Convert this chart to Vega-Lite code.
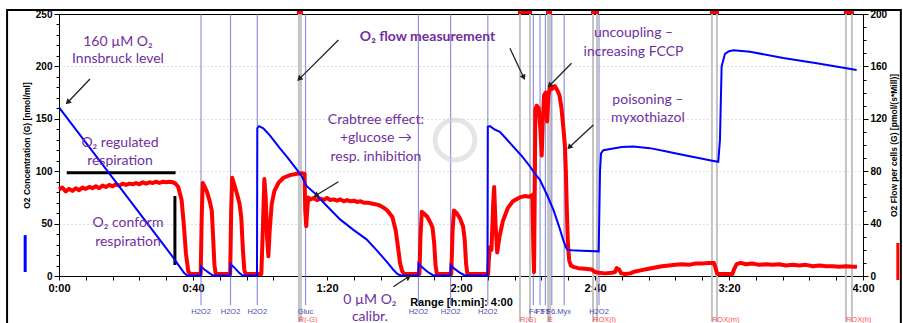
{
  "$schema": "https://vega.github.io/schema/vega-lite/v6.json",
  "width": 804,
  "height": 262,
  "autosize": "none",
  "padding": {"left": 59, "top": 14, "right": 40, "bottom": 47},
  "background": "white",
  "config": {
    "view": {"stroke": "black", "strokeWidth": 1},
    "font": "Liberation Sans",
    "axis": {"labelOverlap": false, "labelFlush": false, "labelBound": false, "labelColor": "black", "tickColor": "black", "domainColor": "black", "titleColor": "black", "labelFontWeight": "bold", "titleFontWeight": "bold"}
  },
  "datasets": {
    "conc": [
      {"t":0,"c":161},{"t":10,"c":119},{"t":20,"c":77},{"t":30,"c":35},{"t":34,"c":18},{"t":36,"c":9},{"t":37.3,"c":3},{"t":38.3,"c":0.5},{"t":42.3,"c":0.5},{"t":42.4,"c":9},{"t":43.5,"c":6},{"t":45,"c":2.5},{"t":46,"c":0.5},{"t":51.1,"c":0.5},{"t":51.2,"c":11.5},{"t":52.5,"c":7.5},{"t":53.8,"c":3},{"t":54.8,"c":0.5},{"t":59.1,"c":0.5},{"t":59.2,"c":141},{"t":59.7,"c":143},{"t":61,"c":141},{"t":63,"c":134},{"t":65.9,"c":122},{"t":68,"c":114},{"t":70.9,"c":102},{"t":72.5,"c":95},{"t":73.9,"c":86},{"t":76,"c":80},{"t":79.9,"c":67},{"t":83.9,"c":54},{"t":87.9,"c":44},{"t":91.8,"c":35},{"t":95,"c":24},{"t":98,"c":13},{"t":99.8,"c":6},{"t":101,"c":2},{"t":102,"c":0.5},{"t":107.2,"c":0.5},{"t":107.3,"c":12},{"t":108.5,"c":8},{"t":110,"c":4},{"t":111.5,"c":1},{"t":112.3,"c":0.5},{"t":116.8,"c":0.5},{"t":116.9,"c":10.5},{"t":118,"c":7},{"t":119.5,"c":3.5},{"t":121,"c":0.8},{"t":122,"c":0.5},{"t":127.9,"c":0.5},{"t":128,"c":142.5},{"t":128.6,"c":143},{"t":130,"c":140},{"t":131.6,"c":137.5},{"t":133.5,"c":131},{"t":135.6,"c":123.5},{"t":138,"c":115},{"t":140.6,"c":104.5},{"t":142,"c":98},{"t":143.6,"c":91.5},{"t":145.6,"c":78},{"t":147.6,"c":63},{"t":149.5,"c":45},{"t":150.5,"c":34.5},{"t":151.3,"c":27.5},{"t":151.8,"c":25},{"t":153,"c":24.5},{"t":156,"c":24},{"t":161.1,"c":23.5},{"t":161.5,"c":100},{"t":161.8,"c":117},{"t":162.5,"c":120},{"t":165,"c":121.5},{"t":168,"c":123},{"t":171.4,"c":123.5},{"t":176.4,"c":122},{"t":181.4,"c":118.8},{"t":186.4,"c":115.5},{"t":191.3,"c":112.3},{"t":195,"c":110},{"t":196.8,"c":109},{"t":197.3,"c":130},{"t":197.8,"c":200},{"t":198.8,"c":212},{"t":200,"c":214.5},{"t":201.3,"c":215.5},{"t":206.3,"c":214},{"t":216.2,"c":208},{"t":226.2,"c":203},{"t":238.1,"c":196.5}
    ],
    "flow": [
      {"t":0,"f":66},{"t":1,"f":67.5},{"t":2,"f":64.5},{"t":3,"f":66.5},{"t":4,"f":65},{"t":5,"f":67},{"t":6,"f":65.5},{"t":7,"f":67.5},{"t":8,"f":66.5},{"t":9,"f":68},{"t":10,"f":67},{"t":11,"f":68.5},{"t":12,"f":67},{"t":13,"f":69},{"t":14,"f":68},{"t":15,"f":69.5},{"t":16,"f":68.5},{"t":17,"f":70},{"t":18,"f":69},{"t":19,"f":70.5},{"t":20,"f":69.5},{"t":21,"f":70.5},{"t":22,"f":70},{"t":23,"f":71},{"t":24,"f":70},{"t":25,"f":71.5},{"t":26,"f":70.5},{"t":27,"f":71.5},{"t":28,"f":71},{"t":29,"f":72},{"t":30,"f":71},{"t":31,"f":72},{"t":32,"f":71.5},{"t":33,"f":72},{"t":34,"f":71.5},{"t":34.8,"f":70.5},{"t":35.6,"f":68},{"t":36.6,"f":58},{"t":37.3,"f":38},{"t":37.9,"f":17},{"t":38.6,"f":3.5},{"t":39.2,"f":1.5},{"t":42.3,"f":1.5},{"t":42.6,"f":45},{"t":42.9,"f":71},{"t":43.5,"f":68},{"t":44.2,"f":64},{"t":45,"f":57},{"t":45.6,"f":50},{"t":46,"f":30},{"t":46.4,"f":8},{"t":46.8,"f":1.5},{"t":51.1,"f":1.5},{"t":51.4,"f":50},{"t":51.7,"f":75},{"t":52.3,"f":70},{"t":53.2,"f":62},{"t":53.9,"f":55},{"t":54.4,"f":45},{"t":54.9,"f":20},{"t":55.3,"f":5},{"t":55.7,"f":1.5},{"t":60.4,"f":1.5},{"t":60.9,"f":40},{"t":61.3,"f":74},{"t":61.7,"f":60},{"t":62.1,"f":30},{"t":62.5,"f":15},{"t":62.9,"f":35},{"t":63.5,"f":55},{"t":64.3,"f":65},{"t":65.5,"f":71},{"t":67,"f":75},{"t":69,"f":77},{"t":71,"f":78},{"t":72.5,"f":78.5},{"t":73.3,"f":78},{"t":73.5,"f":50},{"t":73.8,"f":38},{"t":74.1,"f":50},{"t":74.4,"f":60},{"t":75,"f":58.5},{"t":76,"f":59.5},{"t":77,"f":58},{"t":78,"f":59},{"t":79,"f":58},{"t":80,"f":59.5},{"t":81,"f":58},{"t":82,"f":58.5},{"t":83,"f":57.5},{"t":84,"f":58.5},{"t":85,"f":57},{"t":86,"f":58},{"t":87,"f":57},{"t":88,"f":57.5},{"t":89,"f":56.5},{"t":90,"f":57},{"t":91,"f":56},{"t":92,"f":56},{"t":93,"f":55.5},{"t":94,"f":55},{"t":95,"f":54.5},{"t":96,"f":53.5},{"t":97,"f":52},{"t":98,"f":50},{"t":99.5,"f":45},{"t":100.5,"f":35},{"t":101.2,"f":22},{"t":101.8,"f":10},{"t":102.4,"f":4},{"t":103,"f":1.5},{"t":107.6,"f":1.5},{"t":107.9,"f":30},{"t":108.3,"f":49},{"t":109,"f":47.5},{"t":110,"f":45},{"t":111,"f":40},{"t":111.5,"f":37},{"t":112,"f":25},{"t":112.4,"f":8},{"t":112.8,"f":1.5},{"t":117.1,"f":1.5},{"t":117.5,"f":35},{"t":117.9,"f":50},{"t":118.7,"f":48},{"t":119.7,"f":44},{"t":120.6,"f":38},{"t":121.1,"f":28},{"t":121.5,"f":10},{"t":121.9,"f":1.5},{"t":128.1,"f":1.5},{"t":128.3,"f":12},{"t":128.6,"f":22},{"t":129.1,"f":20},{"t":129.6,"f":55},{"t":129.9,"f":68},{"t":130.3,"f":40},{"t":130.8,"f":18},{"t":131.5,"f":30},{"t":132.5,"f":42},{"t":134,"f":52},{"t":135.5,"f":57},{"t":137.5,"f":60},{"t":139,"f":61},{"t":140.5,"f":60.5},{"t":141.3,"f":62},{"t":141.6,"f":20},{"t":141.8,"f":3},{"t":142,"f":60},{"t":142.2,"f":127},{"t":142.6,"f":130},{"t":143.2,"f":128},{"t":143.7,"f":112},{"t":144.1,"f":92},{"t":144.4,"f":118},{"t":144.8,"f":138},{"t":145.3,"f":140},{"t":145.7,"f":118},{"t":146.1,"f":138},{"t":146.6,"f":144},{"t":147.3,"f":143},{"t":148,"f":145},{"t":148.7,"f":142},{"t":149.4,"f":138},{"t":150,"f":128},{"t":150.6,"f":112},{"t":151,"f":100},{"t":151.3,"f":80},{"t":151.6,"f":50},{"t":151.9,"f":25},{"t":152.3,"f":12},{"t":152.8,"f":8},{"t":153.5,"f":7},{"t":155,"f":6},{"t":157,"f":5.5},{"t":159,"f":5},{"t":160,"f":3},{"t":161.2,"f":2.5},{"t":163,"f":2},{"t":165,"f":2.5},{"t":166,"f":3},{"t":166.5,"f":6},{"t":167.2,"f":5},{"t":167.8,"f":2},{"t":169,"f":1.5},{"t":170.5,"f":2},{"t":172,"f":3.5},{"t":174,"f":4.5},{"t":176,"f":5.5},{"t":178,"f":6.5},{"t":180,"f":7.5},{"t":182,"f":8},{"t":184,"f":8.5},{"t":186,"f":9},{"t":188,"f":8.5},{"t":190,"f":9.5},{"t":192,"f":9.5},{"t":194,"f":10},{"t":195.5,"f":10},{"t":196,"f":6},{"t":196.5,"f":1.5},{"t":201,"f":1.5},{"t":201.5,"f":5},{"t":202.3,"f":9},{"t":203.5,"f":10},{"t":205,"f":9},{"t":207,"f":9.5},{"t":209,"f":8.5},{"t":211,"f":9},{"t":213,"f":8.5},{"t":215,"f":9},{"t":217,"f":8},{"t":219,"f":8.5},{"t":221,"f":8},{"t":223,"f":8.5},{"t":225,"f":7.5},{"t":227,"f":8},{"t":229,"f":7.5},{"t":231,"f":7.5},{"t":233,"f":7},{"t":235,"f":7.5},{"t":237,"f":7},{"t":238.2,"f":7}
    ],
    "events": [
      {"t":42.4,"lab":"H2O2"},{"t":51.2,"lab":"H2O2"},{"t":59.2,"lab":"H2O2"},{"t":73.6,"lab":"Gluc"},{"t":107.3,"lab":"H2O2"},{"t":116.9,"lab":"H2O2"},{"t":128.0,"lab":"H2O2"},{"t":141.6,"lab":"F4"},{"t":143.6,"lab":"F5"},{"t":145.2,"lab":"F5"},{"t":147.1,"lab":"F6."},{"t":150.8,"lab":"Myx"},{"t":161.2,"lab":"H2O2"}
    ],
    "marks": [
      {"lab":"R(-G)","t0":71.6,"t1":72.2},{"lab":"R(G)","t0":137.6,"t1":140.6},{"lab":"E","t0":146.0,"t1":146.6},{"lab":"ROX(l)","t0":159.4,"t1":160.6},{"lab":"ROX(m)","t0":194.9,"t1":196.4},{"lab":"ROX(h)","t0":234.9,"t1":236.7}
    ],
    "notes": [
      {"txt":"160 µM O₂","t":17.6,"c":223.6},
      {"txt":"Innsbruck level","t":17.6,"c":206.8},
      {"txt":"O₂ regulated","t":18.2,"c":127.2},
      {"txt":"respiration","t":18.2,"c":109.7},
      {"txt":"O₂ conform","t":20.6,"c":50.6},
      {"txt":"respiration","t":20.6,"c":32.7},
      {"txt":"Crabtree effect:","t":94.6,"c":148.9},
      {"txt":"+glucose →","t":94.6,"c":131.4},
      {"txt":"resp. inhibition","t":94.6,"c":113.8},
      {"txt":"0 µM O₂","t":92.8,"c":-22.9},
      {"txt":"calibr.","t":92.8,"c":-39.2},
      {"txt":"uncoupling –","t":171.5,"c":231.6},
      {"txt":"increasing FCCP","t":171.5,"c":214},
      {"txt":"poisoning –","t":175.8,"c":167.9},
      {"txt":"myxothiazol","t":175.8,"c":150.5}
    ],
    "arrows": [
      {"id":1,"t":9.25,"c":188,"t2":2.78,"c2":166.3},
      {"id":2,"t":83.4,"c":225.2,"t2":71.9,"c2":188.6},
      {"id":3,"t":134.6,"c":217.3,"t2":138.6,"c2":190.2},
      {"id":4,"t":153.0,"c":203,"t2":146.6,"c2":182.3},
      {"id":5,"t":159.5,"c":144.1,"t2":152.5,"c2":123.4},
      {"id":6,"t":83.4,"c":90,"t2":76.9,"c2":77.3},
      {"id":7,"t":99.8,"c":-10.2,"t2":104.2,"c2":-1}
    ]
  },
  "layer": [
    {
      "layer": [
        {
          "data": {"name": "marks"},
          "mark": {"type": "rule", "color": "#c4c4c4", "strokeWidth": 2},
          "encoding": {
            "x": {
              "field": "t0", "type": "quantitative",
              "scale": {"domain": [0, 240], "nice": false, "zero": false},
              "axis": {
                "values": [0,8,16,24,32,40,48,56,64,72,80,88,96,104,112,120,128,136,144,152,160,168,176,184,192,200,208,216,224,232,240],
                "tickCount": 1000,
                "labelExpr": "datum.value % 40 === 0 ? (floor(datum.value/60) + ':' + (datum.value % 60 < 10 ? '0' : '') + (datum.value % 60)) : ''",
                "labelOverlap": false, "labelFlush": false,
                "labelFontSize": 11, "labelPadding": 2,
                "tickSize": 4,
                "grid": false,
                "title": "Range [h:min]: 4:00", "titleFontSize": 11, "titlePadding": 3
              }
            },
            "y": {
              "datum": 250, "type": "quantitative",
              "scale": {"domain": [0, 250], "nice": false, "zero": false},
              "axis": {
                "values": [0,10,20,30,40,50,60,70,80,90,100,110,120,130,140,150,160,170,180,190,200,210,220,230,240,250],
                "tickCount": 1000,
                "format": "d",
                "labelExpr": "datum.value % 50 === 0 ? datum.label : ''",
                "labelOverlap": false, "labelFontSize": 10, "labelPadding": 2,
                "tickSize": {"condition": {"test": "datum.value % 50 === 0", "value": 5}, "value": 3},
                "grid": true, "gridColor": "#c0c0c0", "gridDash": [1, 3],
                "gridOpacity": {"condition": {"test": "datum.value % 50 === 0 && datum.value > 0 && datum.value < 250", "value": 1}, "value": 0},
                "title": "O2 Concentration (G) [nmol/ml]", "titleFontSize": 8.5, "titlePadding": 4
              }
            },
            "y2": {"datum": -44}
          }
        },
        {
          "data": {"name": "marks"},
          "mark": {"type": "rule", "color": "#c4c4c4", "strokeWidth": 2},
          "encoding": {
            "x": {"field": "t1", "type": "quantitative"},
            "y": {"datum": 250, "type": "quantitative"},
            "y2": {"datum": -44}
          }
        },
        {
          "data": {"name": "events"},
          "mark": {"type": "rule", "color": "#6e6ed2", "strokeWidth": 1.2, "opacity": 0.75},
          "encoding": {
            "x": {"field": "t", "type": "quantitative"},
            "y": {"datum": 250, "type": "quantitative"},
            "y2": {"datum": -28}
          }
        },
        {
          "data": {"name": "marks"},
          "mark": {"type": "rule", "color": "#ff0000", "strokeWidth": 4, "strokeCap": "square"},
          "encoding": {
            "x": {"field": "t0", "type": "quantitative"},
            "x2": {"field": "t1"},
            "y": {"datum": 251.9, "type": "quantitative"}
          }
        },
        {
          "data": {"name": "events"},
          "mark": {"type": "text", "fontSize": 7.5, "color": "#4a4ab8", "align": "center", "baseline": "middle"},
          "encoding": {
            "x": {"field": "t", "type": "quantitative"},
            "y": {"datum": -34.4, "type": "quantitative"},
            "text": {"field": "lab"}
          }
        },
        {
          "data": {"name": "marks"},
          "mark": {"type": "text", "fontSize": 7.5, "color": "#ff5050", "align": "left", "baseline": "middle"},
          "encoding": {
            "x": {"field": "t0", "type": "quantitative"},
            "y": {"datum": -41.8, "type": "quantitative"},
            "text": {"field": "lab"}
          }
        },
        {
          "data": {"values": [{}]},
          "mark": {"type": "rule", "color": "black", "strokeWidth": 3},
          "encoding": {
            "x": {"datum": 2.3, "type": "quantitative"},
            "x2": {"datum": 34.8},
            "y": {"datum": 98.6, "type": "quantitative"}
          }
        },
        {
          "data": {"values": [{}]},
          "mark": {"type": "rule", "color": "black", "strokeWidth": 3},
          "encoding": {
            "x": {"datum": 34.6, "type": "quantitative"},
            "y": {"datum": 76.3, "type": "quantitative"},
            "y2": {"datum": 10.5}
          }
        },
        {
          "data": {"values": [{}]},
          "mark": {"type": "point", "shape": "circle", "size": 1590, "filled": false, "stroke": "#d0d0d0", "strokeWidth": 5, "opacity": 0.55},
          "encoding": {
            "x": {"datum": 118.2, "type": "quantitative"},
            "y": {"datum": 129.8, "type": "quantitative"}
          }
        },
        {
          "data": {"values": [{}]},
          "mark": {"type": "rect", "fillOpacity": 0, "stroke": "black", "strokeWidth": 2},
          "encoding": {
            "x": {"datum": -15.5, "type": "quantitative"},
            "x2": {"datum": 251.3},
            "y": {"datum": 253.8, "type": "quantitative"},
            "y2": {"datum": -60}
          }
        },
        {
          "data": {"values": [{}]},
          "mark": {"type": "rule", "color": "#0000ff", "strokeWidth": 3},
          "encoding": {
            "x": {"datum": -10.1, "type": "quantitative"},
            "y": {"datum": 39, "type": "quantitative"},
            "y2": {"datum": 3.8}
          }
        }
      ]
    },
    {
      "layer": [
        {
          "data": {"name": "flow"},
          "mark": {"type": "line", "color": "#ff0000", "strokeWidth": 4, "strokeJoin": "round"},
          "encoding": {
            "x": {"field": "t", "type": "quantitative"},
            "y": {
              "field": "f", "type": "quantitative",
              "scale": {"domain": [0, 200], "nice": false, "zero": false},
              "axis": {
                "orient": "right",
                "values": [0,10,20,30,40,50,60,70,80,90,100,110,120,130,140,150,160,170,180,190,200],
                "tickCount": 1000,
                "format": "d",
                "labelExpr": "datum.value % 40 === 0 ? datum.label : ''",
                "labelOverlap": false, "labelFontSize": 10, "labelPadding": 2,
                "tickSize": {"condition": {"test": "datum.value % 40 === 0", "value": 5}, "value": 3},
                "grid": false,
                "title": "O2 Flow per cells (G) [pmol/(s*Mill)]", "titleFontSize": 8.5, "titlePadding": 3, "titleAngle": 270, "titleBaseline": "top"
              }
            }
          }
        },
        {
          "data": {"values": [{}]},
          "mark": {"type": "rule", "color": "#ff0000", "strokeWidth": 3},
          "encoding": {
            "x": {"datum": 250.4, "type": "quantitative"},
            "y": {"datum": 25.2, "type": "quantitative"},
            "y2": {"datum": -3.1}
          }
        }
      ]
    },
    {
      "layer": [
        {
          "data": {"name": "conc"},
          "mark": {"type": "line", "color": "#0000ff", "strokeWidth": 2},
          "encoding": {
            "x": {"field": "t", "type": "quantitative"},
            "y": {"field": "c", "type": "quantitative", "scale": {"domain": [0, 250], "nice": false, "zero": false}, "axis": null}
          }
        },
        {
          "data": {"name": "notes"},
          "mark": {"type": "text", "font": "Lato, Noto Sans", "fontSize": 14, "color": "#7030a0", "align": "center", "baseline": "middle"},
          "encoding": {
            "x": {"field": "t", "type": "quantitative"},
            "y": {"field": "c", "type": "quantitative", "axis": null},
            "text": {"field": "txt"}
          }
        },
        {
          "data": {"values": [{"txt": "O₂ flow measurement", "t": 110, "c": 228.3}]},
          "mark": {"type": "text", "font": "Lato, Noto Sans", "fontSize": 14, "fontWeight": "bold", "color": "#7030a0", "align": "center", "baseline": "middle"},
          "encoding": {
            "x": {"field": "t", "type": "quantitative"},
            "y": {"field": "c", "type": "quantitative", "axis": null},
            "text": {"field": "txt"}
          }
        },
        {
          "data": {"name": "arrows"},
          "mark": {"type": "rule", "color": "#222222", "strokeWidth": 1.3},
          "encoding": {
            "x": {"field": "t", "type": "quantitative"},
            "x2": {"field": "t2"},
            "y": {"field": "c", "type": "quantitative", "axis": null},
            "y2": {"field": "c2"}
          }
        },
        {
          "data": {"name": "arrows"},
          "transform": [{"filter": {"field": "id", "oneOf": [1, 2, 4, 5]}}],
          "mark": {"type": "point", "shape": "triangle", "angle": 225, "size": 40, "filled": true, "color": "#222222", "opacity": 1},
          "encoding": {
            "x": {"field": "t2", "type": "quantitative"},
            "y": {"field": "c2", "type": "quantitative", "axis": null}
          }
        },
        {
          "data": {"name": "arrows"},
          "transform": [{"filter": {"field": "id", "equal": 3}}],
          "mark": {"type": "point", "shape": "triangle", "angle": 155, "size": 40, "filled": true, "color": "#222222", "opacity": 1},
          "encoding": {
            "x": {"field": "t2", "type": "quantitative"},
            "y": {"field": "c2", "type": "quantitative", "axis": null}
          }
        },
        {
          "data": {"name": "arrows"},
          "transform": [{"filter": {"field": "id", "equal": 6}}],
          "mark": {"type": "point", "shape": "triangle", "angle": 238, "size": 40, "filled": true, "color": "#222222", "opacity": 1},
          "encoding": {
            "x": {"field": "t2", "type": "quantitative"},
            "y": {"field": "c2", "type": "quantitative", "axis": null}
          }
        },
        {
          "data": {"name": "arrows"},
          "transform": [{"filter": {"field": "id", "equal": 7}}],
          "mark": {"type": "point", "shape": "triangle", "angle": 57, "size": 40, "filled": true, "color": "#222222", "opacity": 1},
          "encoding": {
            "x": {"field": "t2", "type": "quantitative"},
            "y": {"field": "c2", "type": "quantitative", "axis": null}
          }
        }
      ]
    }
  ],
  "resolve": {"scale": {"y": "independent"}, "axis": {"y": "independent"}}
}
